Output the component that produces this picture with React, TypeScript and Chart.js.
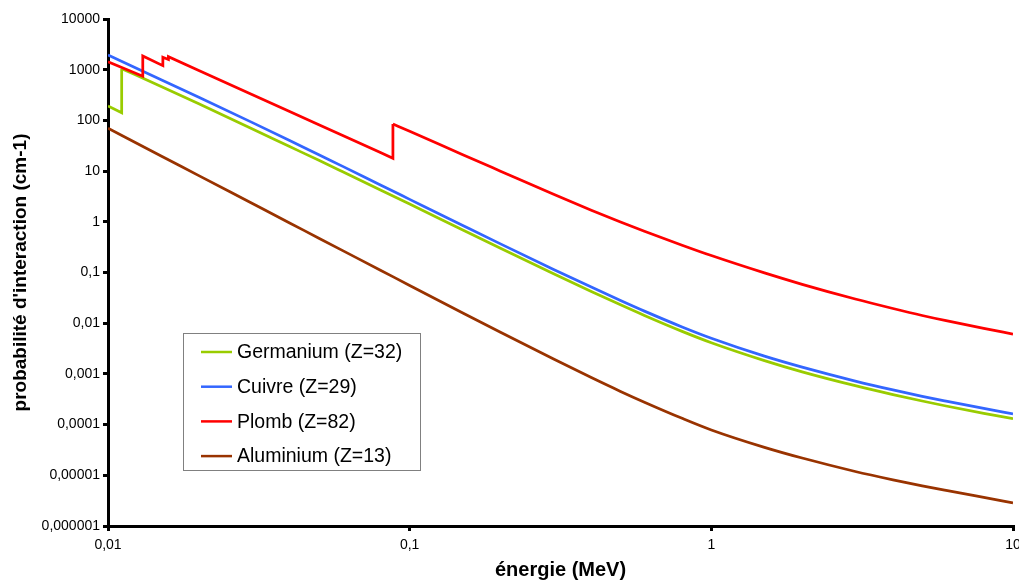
import React, { useEffect, useRef } from 'react';
import { Chart, registerables } from 'chart.js';

Chart.register(...registerables);

// ---------- data (energy in MeV, probability in cm-1) ----------
const energyCommon = [0.01, 0.015, 0.02, 0.03, 0.04, 0.05, 0.06, 0.08, 0.1, 0.15, 0.2, 0.3, 0.4, 0.5, 0.6, 0.8, 1, 1.5, 2, 3, 4, 5, 6, 8, 10];

const energyGermanium = [0.01, 0.0111, 0.0111, 0.015, 0.02, 0.03, 0.04, 0.05, 0.06, 0.08, 0.1, 0.15, 0.2, 0.3, 0.4, 0.5, 0.6, 0.8, 1, 1.5, 2, 3, 4, 5, 6, 8, 10];
const germanium = [192, 142, 1047, 467, 212, 68.5, 30.5, 16.3, 9.7, 4.26, 2.24, 0.689, 0.3, 0.0944, 0.0423, 0.023, 0.0142, 0.0069, 0.00412, 0.00183, 0.0011, 0.000586, 0.000391, 0.000292, 0.000233, 0.000167, 0.000131];

const cuivre = [1950, 637, 286, 91.4, 40.2, 21.0, 12.4, 5.32, 2.77, 0.847, 0.367, 0.115, 0.0515, 0.028, 0.0173, 0.00843, 0.00505, 0.00224, 0.00136, 0.000723, 0.000483, 0.000361, 0.00029, 0.000208, 0.000163];

const energyPlomb = [0.01, 0.01304, 0.01304, 0.0152, 0.0152, 0.01586, 0.01586, 0.02, 0.03, 0.04, 0.05, 0.06, 0.08, 0.088, 0.088, 0.1, 0.15, 0.2, 0.3, 0.4, 0.5, 0.6, 0.8, 1, 1.5, 2, 3, 4, 5, 6, 8, 10];
const plomb = [1439, 741, 1862, 1202, 1758, 1585, 1803, 966, 324, 150, 82.0, 50.2, 23.2, 17.9, 84.9, 61.0, 21.1, 9.98, 3.48, 1.69, 0.991, 0.652, 0.346, 0.216, 0.0982, 0.0585, 0.03, 0.0195, 0.0142, 0.0112, 0.00791, 0.00611];

const aluminium = [69.8, 19.9, 8.15, 2.32, 0.951, 0.475, 0.27, 0.111, 0.0555, 0.0159, 0.00662, 0.00196, 0.000847, 0.000452, 0.000277, 0.000133, 0.0000785, 0.0000356, 0.0000219, 0.0000119, 0.00000815, 0.00000621, 0.00000504, 0.00000366, 0.00000286];

const seriesLabels = ['Germanium (Z=32)', 'Cuivre (Z=29)', 'Plomb (Z=82)', 'Aluminium (Z=13)'];
const seriesColors = ['#99CC00', '#3366FF', '#FF0000', '#993300'];

const xTickValues = [0.01, 0.1, 1, 10];
const xTickLabels = ['0,01', '0,1', '1', '10'];
const yTickValues = [10000, 1000, 100, 10, 1, 0.1, 0.01, 0.001, 0.0001, 0.00001, 0.000001];
const yTickLabels = ['10000', '1000', '100', '10', '1', '0,1', '0,01', '0,001', '0,0001', '0,00001', '0,000001'];

const xTitle = 'énergie (MeV)';
const yTitle = "probabilité d'interaction (cm-1)";

const FONT = '"Liberation Sans", Arial, Helvetica, sans-serif';

const zip = (xs: number[], ys: number[]) => xs.map((x, i) => ({ x, y: ys[i] }));

// split a series at its last absorption edge: straight part (with edges) + smooth part
function buildDatasets(xs: number[], ys: number[], idx: number) {
  const pts = zip(xs, ys);
  let last = 0;
  for (let i = 1; i < xs.length; i++) if (xs[i] === xs[i - 1]) last = i;
  const common = {
    label: seriesLabels[idx],
    borderColor: seriesColors[idx],
    backgroundColor: seriesColors[idx],
    borderWidth: 2.75,
    pointRadius: 0,
    fill: false,
    order: 4 - idx,
  };
  const sets: any[] = [];
  if (last > 0) sets.push({ ...common, data: pts.slice(0, last + 1), tension: 0 });
  sets.push({ ...common, data: pts.slice(last), cubicInterpolationMode: 'monotone' });
  return sets;
}

const boxLegend = {
  id: 'boxLegend',
  afterDraw(chart: any) {
    const ctx = chart.ctx as CanvasRenderingContext2D;
    ctx.save();
    ctx.fillStyle = '#ffffff';
    ctx.fillRect(183.5, 333.5, 237, 137);
    ctx.strokeStyle = '#808080';
    ctx.lineWidth = 1;
    ctx.strokeRect(183.5, 333.5, 237, 137);
    ctx.font = '19.5px ' + FONT;
    ctx.textBaseline = 'middle';
    ctx.textAlign = 'left';
    seriesLabels.forEach((label, i) => {
      const y = 352 + i * 34.7;
      ctx.strokeStyle = seriesColors[i];
      ctx.lineWidth = 2.5;
      ctx.beginPath();
      ctx.moveTo(201, y);
      ctx.lineTo(232, y);
      ctx.stroke();
      ctx.fillStyle = '#000000';
      ctx.fillText(label, 237, y + 1);
    });
    ctx.restore();
  },
};

export default function App() {
  const canvasRef = useRef<HTMLCanvasElement | null>(null);

  useEffect(() => {
    if (!canvasRef.current) return;
    const chart = new Chart(canvasRef.current, {
      type: 'line',
      data: {
        datasets: [
          ...buildDatasets(energyGermanium, germanium, 0),
          ...buildDatasets(energyCommon, cuivre, 1),
          ...buildDatasets(energyPlomb, plomb, 2),
          ...buildDatasets(energyCommon, aluminium, 3),
        ],
      },
      options: {
        animation: false,
        responsive: false,
        maintainAspectRatio: false,
        layout: { padding: { top: 19, right: 0, bottom: 0, left: 0 } },
        plugins: { legend: { display: false }, title: { display: false }, tooltip: { enabled: false } },
        scales: {
          x: {
            type: 'logarithmic',
            min: 0.01,
            max: 10,
            border: { display: true, color: '#000000', width: 3 },
            grid: { drawOnChartArea: false, drawTicks: true, tickLength: 5, color: '#000000', lineWidth: 3 },
            ticks: {
              autoSkip: false,
              maxRotation: 0,
              padding: 6,
              color: '#000000',
              font: { family: FONT, size: 14 },
              callback: (_v: any, i: number) => xTickLabels[i],
            },
            afterBuildTicks: (scale: any) => {
              scale.ticks = xTickValues.map((v) => ({ value: v }));
            },
            afterFit: (scale: any) => {
              scale.height = 57;
              scale.paddingRight = 6;
              scale.paddingLeft = 0;
            },
            title: {
              display: true,
              text: xTitle,
              color: '#000000',
              font: { family: FONT, size: 20, weight: 'bold' },
              padding: { top: 0, bottom: 1 },
            },
          },
          y: {
            type: 'logarithmic',
            min: 0.000001,
            max: 10000,
            border: { display: true, color: '#000000', width: 3 },
            grid: { drawOnChartArea: false, drawTicks: true, tickLength: 5, color: '#000000', lineWidth: 3 },
            ticks: {
              autoSkip: false,
              padding: 3,
              color: '#000000',
              font: { family: FONT, size: 14 },
              callback: (_v: any, i: number) => yTickLabels[i],
            },
            afterBuildTicks: (scale: any) => {
              scale.ticks = yTickValues.map((v) => ({ value: v }));
            },
            afterFit: (scale: any) => {
              scale.width = 108;
              scale.paddingTop = 0;
              scale.paddingBottom = 0;
            },
            title: {
              display: true,
              text: yTitle,
              color: '#000000',
              font: { family: FONT, size: 19, weight: 'bold' },
              padding: { top: 9, bottom: 0 },
            },
          },
        },
      } as any,
      plugins: [boxLegend],
    });
    return () => chart.destroy();
  }, []);

  return (
    <div style={{ position: 'fixed', left: 0, top: 0, width: 1019, height: 583, background: '#ffffff' }}>
      <canvas ref={canvasRef} width={1019} height={583} style={{ display: 'block' }} />
    </div>
  );
}
